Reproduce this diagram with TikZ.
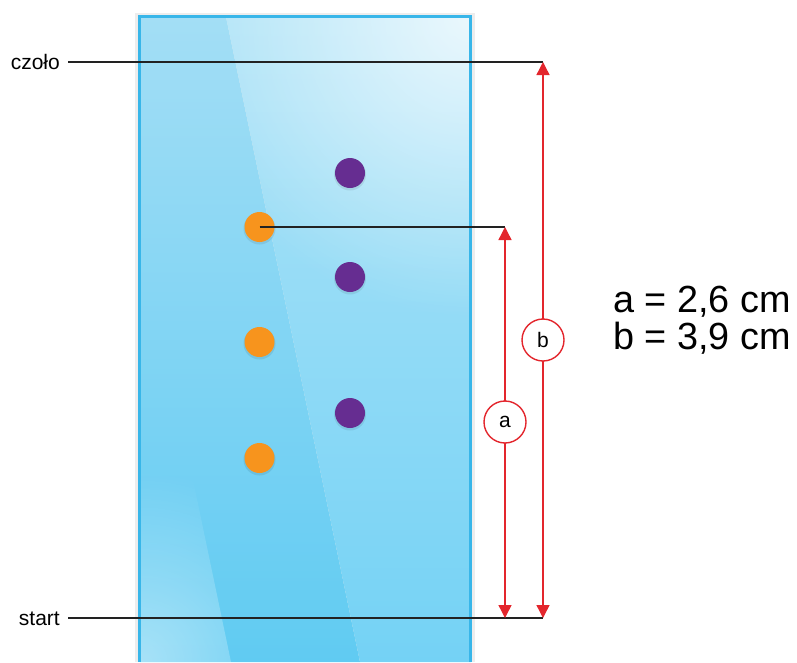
\documentclass[tikz,border=0pt]{standalone}
\usepackage{fontspec}
\setmainfont{Liberation Sans}
\usetikzlibrary{arrows.meta,fadings}
\definecolor{plateA}{HTML}{A3DEF5}
\definecolor{plateB}{HTML}{60CBF2}
\definecolor{plateC}{HTML}{AEE3F7}
\definecolor{plateD}{HTML}{74D2F5}
\definecolor{plateEdge}{HTML}{38B6E9}
\definecolor{arrRed}{HTML}{E3262D}
\definecolor{dotOrange}{HTML}{F7941D}
\definecolor{dotPurple}{HTML}{662D91}
\definecolor{lineBlack}{HTML}{222222}
\tikzfading[name=cornerfade, inner color=transparent!25, outer color=transparent!100]
\tikzfading[name=lowfade, inner color=transparent!55, outer color=transparent!100]
\tikzset{
  spot/.style={circle, inner sep=0pt, minimum size=30pt},
  orangespot/.style={spot, fill=dotOrange},
  purplespot/.style={spot, fill=dotPurple},
  spotshadow/.style={circle, inner sep=0pt, minimum size=32pt, fill=black, fill opacity=0.08},
  levelline/.style={draw=lineBlack, line width=2pt},
  dimarrow/.style={draw=arrRed, line width=1.4pt, {Triangle[width=13pt,length=13pt]}-{Triangle[width=13pt,length=13pt]}},
  dimlabel/.style={circle, draw=arrRed, line width=1.4pt, fill=white, minimum size=42pt, inner sep=0pt, font=\fontsize{21}{21}\selectfont},
  sidelabel/.style={inner sep=0pt, font=\fontsize{21}{21}\selectfont},
  resulttext/.style={inner sep=0pt, font=\fontsize{37.8}{37.8}\selectfont}
}
\begin{document}
\begin{tikzpicture}[x=1pt,y=-1pt]
\useasboundingbox (0,0) rectangle (797,662);
% plate shadow
\fill[black!7] (135,13) rectangle (475,662);
% plate: left region
\shade[top color=plateA, bottom color=plateB] (140,17) -- (226,17) -- (360,662) -- (140,662) -- cycle;
% plate: right region
\shade[top color=plateC, bottom color=plateD] (226,17) -- (471,17) -- (471,662) -- (360,662) -- cycle;
% light corner at the top right
\begin{scope}
  \clip (226,17) -- (471,17) -- (471,662) -- (360,662) -- cycle;
  \fill[white, path fading=cornerfade] (471,17) circle (300);
\end{scope}
% lighter strip at the lower left
\begin{scope}
  \clip (140,440) -- (193,480) -- (231,662) -- (140,662) -- cycle;
  \fill[white, path fading=lowfade] (140,662) circle (190);
\end{scope}
% plate border
\draw[plateEdge, line width=3pt] (139.5,662) -- (139.5,16.5) -- (470.5,16.5) -- (470.5,662);

% spots
\foreach \x/\y in {259.5/227, 259.5/342, 259.5/458, 350/173, 350/277, 350/413}{
  \node[spotshadow] at (\x,\y+1.5) {};
}
\node[orangespot] (o1) at (259.5,227) {};
\node[orangespot] (o2) at (259.5,342) {};
\node[orangespot] (o3) at (259.5,458) {};
\node[purplespot] (p1) at (350,173) {};
\node[purplespot] (p2) at (350,277) {};
\node[purplespot] (p3) at (350,413) {};

% level lines
\node[sidelabel, anchor=base east] (czolo) at (60,69) {czoło};
\node[sidelabel, anchor=base east] (start) at (60,625) {start};
\coordinate (czoloL) at (68,62);
\coordinate (czoloR) at (543,62);
\coordinate (startL) at (68,618);
\coordinate (startR) at (543,618);
\coordinate (aTop) at (505,227);
\coordinate (aBot) at (505,618);
\draw[levelline] (czoloL) -- (czoloR);
\draw[levelline] (startL) -- (startR);
\draw[levelline] (o1.center) -- (aTop);

% dimension arrows
\draw[dimarrow] (aBot) -- (aTop);
\draw[dimarrow] (startR) -- (czoloR);
\node[dimlabel] (la) at (505,422) {a};
\node[dimlabel] (lb) at (543,340) {b};

% results
\node[resulttext, anchor=base west] (ra) at (613,312) {a = 2,6 cm};
\node[resulttext, anchor=base west] (rb) at (613,349) {b = 3,9 cm};
\end{tikzpicture}
\end{document}
